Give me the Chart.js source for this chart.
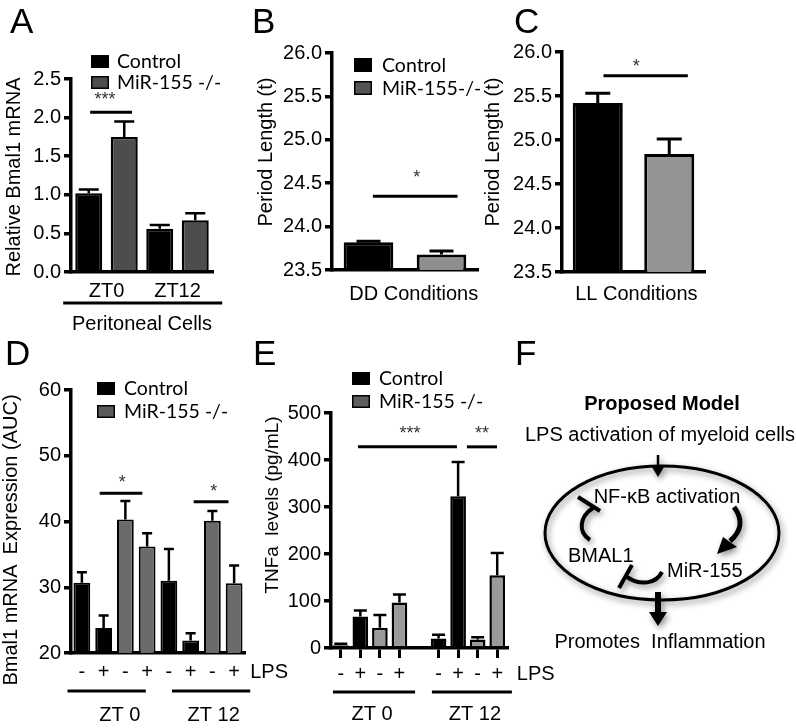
<!DOCTYPE html>
<html><head><meta charset="utf-8">
<script src="https://cdn.jsdelivr.net/npm/chart.js@4.4.1/dist/chart.umd.min.js"></script>
<style>
html,body{margin:0;padding:0;background:#fff;}
#wrap{position:relative;width:796px;height:728px;overflow:hidden;background:#fff;}
#wrap canvas{position:absolute;}
#ov{position:absolute;left:0;top:0;pointer-events:none;}
#ov text{font-family:"Liberation Sans",Arial,sans-serif;fill:#000;white-space:pre;}
#ov .lg{font-family:Lato,"Liberation Sans",sans-serif;font-size:19.5px;}
#ov .ax{font-size:20px;}
#ov .big{font-size:35px;}
</style></head>
<body><div id="wrap">
<canvas id="cA" width="250" height="300" style="left:0;top:40px"></canvas>
<canvas id="cB" width="270" height="300" style="left:250px;top:30px"></canvas>
<canvas id="cC" width="300" height="300" style="left:480px;top:30px"></canvas>
<canvas id="cD" width="300" height="368" style="left:0;top:360px"></canvas>
<canvas id="cE" width="300" height="368" style="left:260px;top:360px"></canvas>
<svg id="ov" width="796" height="728">
  <defs>
    <filter id="sh" x="-30%" y="-30%" width="160%" height="160%">
      <feGaussianBlur in="SourceAlpha" stdDeviation="3"/>
      <feOffset dx="2" dy="3" result="b"/>
      <feFlood flood-color="#000" flood-opacity="0.45"/>
      <feComposite in2="b" operator="in"/>
      <feMerge><feMergeNode/><feMergeNode in="SourceGraphic"/></feMerge>
    </filter>
  </defs>
  <!-- panel letters -->
  <text class="big" x="10" y="33">A</text>
  <text class="big" x="252" y="33">B</text>
  <text class="big" x="514" y="33">C</text>
  <text class="big" x="5" y="365">D</text>
  <text class="big" x="253" y="365">E</text>
  <text class="big" x="515" y="365">F</text>
  <!-- legends -->
  <rect x="91" y="55" width="18" height="13" fill="#000"/>
  <text class="lg" x="117" y="68">Control</text>
  <rect x="91.75" y="76.75" width="16.5" height="11.5" fill="#4d4d4d" stroke="#000" stroke-width="1.5"/>
  <text class="lg" x="117" y="89">MiR-155 -/-</text>

  <rect x="354" y="58" width="18" height="14" fill="#000"/>
  <text class="lg" x="382" y="72">Control</text>
  <rect x="354.75" y="81.75" width="16.5" height="12.5" fill="#555" stroke="#000" stroke-width="1.5"/>
  <text class="lg" x="382" y="95">MiR-155-/-</text>

  <rect x="97" y="382" width="18" height="13" fill="#000"/>
  <text class="lg" x="124" y="395">Control</text>
  <rect x="97.75" y="405.75" width="16.5" height="11.5" fill="#5b5b5b" stroke="#000" stroke-width="1.5"/>
  <text class="lg" x="124" y="418">MiR-155 -/-</text>

  <rect x="352" y="372" width="18" height="13" fill="#000"/>
  <text class="lg" x="379" y="385">Control</text>
  <rect x="352.75" y="395.75" width="16.5" height="11.5" fill="#5e5e5e" stroke="#000" stroke-width="1.5"/>
  <text class="lg" x="379" y="408">MiR-155 -/-</text>

  <!-- y axis titles -->
  <text class="ax" text-anchor="middle" transform="translate(20,177) rotate(-90)">Relative Bmal1 mRNA</text>
  <text class="ax" text-anchor="middle" transform="translate(272,152) rotate(-90)">Period Length (t)</text>
  <text class="ax" text-anchor="middle" transform="translate(499,152) rotate(-90)">Period Length (t)</text>
  <text class="ax" text-anchor="middle" transform="translate(17,540) rotate(-90)">Bmal1 mRNA  Expression (AUC)</text>
  <text class="ax" text-anchor="middle" transform="translate(278,505) rotate(-90)" style="font-size:19px">TNFa  levels (pg/mL)</text>

  <!-- panel F: proposed model diagram -->
  <text x="662" y="410" text-anchor="middle" style="font-size:20px;font-weight:bold">Proposed Model</text>
  <text x="660" y="441" text-anchor="middle" style="font-size:20px">LPS activation of myeloid cells</text>
  <g filter="url(#sh)">
    <ellipse cx="662" cy="533" rx="117" ry="67" fill="none" stroke="#000" stroke-width="3"/>
    <line x1="658" y1="455" x2="658" y2="469" stroke="#000" stroke-width="2.5"/>
    <polygon points="652,467 664,467 658,477" fill="#000"/>
    <path d="M734 507 C743 519, 742 531, 730 541" fill="none" stroke="#000" stroke-width="5"/>
    <polygon points="717,554 723,537 737,547" fill="#000"/>
    <path d="M590 540 C578 532, 579 517, 593 508" fill="none" stroke="#000" stroke-width="4"/>
    <line x1="578" y1="497" x2="600" y2="511" stroke="#000" stroke-width="4"/>
    <path d="M662 572 C656 584, 640 586, 627 577" fill="none" stroke="#000" stroke-width="4"/>
    <line x1="619" y1="588" x2="632" y2="565" stroke="#000" stroke-width="4"/>
    <line x1="658" y1="592" x2="658" y2="614" stroke="#000" stroke-width="6"/>
    <polygon points="649,612 667,612 658,626" fill="#000"/>
  </g>
  <text x="667" y="503" text-anchor="middle" style="font-size:20px">NF-κB activation</text>
  <text x="568" y="562" style="font-size:20px">BMAL1</text>
  <text x="667" y="577" style="font-size:20px">MiR-155</text>
  <text x="660" y="648" text-anchor="middle" style="font-size:20px">Promotes  Inflammation</text>
</svg>
</div>
<script>
// ---------------- DATA ----------------
// Panel A: relative Bmal1 mRNA, peritoneal cells
const catA = ['ZT0', 'ZT12'];
const aControl = [1.02, 0.56];
const aControlErr = [0.05, 0.05];
const aMir = [1.75, 0.67];
const aMirErr = [0.20, 0.09];

// Panel B: period length, DD conditions
const catB = ['DD Conditions'];
const bControl = [23.82];
const bControlErr = [0.01];
const bMir = [23.68];
const bMirErr = [0.04];

// Panel C: period length, LL conditions
const catC = ['LL Conditions'];
const cControl = [25.42];
const cControlErr = [0.11];
const cMir = [24.84];
const cMirErr = [0.17];

// Panel D: Bmal1 mRNA expression (AUC)
const catD = ['ZT 0', 'ZT 12'];
const lpsD = ['-', '+', '-', '+'];
const dCtrlMinus = [30.7, 31.0];
const dCtrlMinusErr = [1.6, 4.8];
const dCtrlPlus = [23.8, 21.9];
const dCtrlPlusErr = [1.9, 1.1];
const dMirMinus = [40.3, 40.1];
const dMirMinusErr = [2.8, 1.5];
const dMirPlus = [36.2, 30.6];
const dMirPlusErr = [2.0, 2.7];

// Panel E: TNFa levels (pg/mL)
const catE = ['-', '+', '-', '+', '', '-', '+', '-', '+'];
const groupE = ['ZT 0', 'ZT 12'];
const eControl = [6, 67, null, null, null, 20, 323, null, null];
const eControlErr = [3, 13, null, null, null, 8, 73, null, null];
const eMir = [null, null, 43, 97, null, null, null, 18, 155];
const eMirErr = [null, null, 27, 17, null, null, null, 5, 47];

// ---------------- SETUP ----------------
const FONT = '"Liberation Sans", Arial, sans-serif';
Chart.defaults.font.family = FONT;
Chart.defaults.color = '#000';
Chart.defaults.animation = false;
const AXW = 3.5;

const extras = {
  id: 'extras',
  afterDatasetsDraw(chart, args, o) {
    const ctx = chart.ctx, xs = chart.scales.x, ys = chart.scales.y, ca = chart.chartArea;
    const vx = v => xs.getPixelForValue(v);
    ctx.save();
    ctx.strokeStyle = '#000';
    ctx.fillStyle = '#000';
    ctx.lineCap = 'butt';
    // error bars (upper whiskers)
    (o.errors || []).forEach((errs, di) => {
      const meta = chart.getDatasetMeta(di);
      const data = chart.data.datasets[di].data;
      meta.data.forEach((b, i) => {
        const v = data[i], e = errs[i];
        if (v == null || e == null) return;
        const y0 = ys.getPixelForValue(v), y1 = ys.getPixelForValue(v + e);
        ctx.lineWidth = o.errW || 2.5;
        ctx.beginPath();
        ctx.moveTo(b.x, y0); ctx.lineTo(b.x, y1);
        ctx.moveTo(b.x - o.capW / 2, y1); ctx.lineTo(b.x + o.capW / 2, y1);
        ctx.stroke();
      });
    });
    // significance lines
    (o.sig || []).forEach(s => {
      const y = ys.getPixelForValue(s.y);
      ctx.lineWidth = 3;
      ctx.beginPath(); ctx.moveTo(vx(s.from), y); ctx.lineTo(vx(s.to), y); ctx.stroke();
      ctx.save();
      ctx.fillStyle = '#333';
      ctx.font = '18px ' + FONT;
      ctx.textAlign = 'center'; ctx.textBaseline = 'alphabetic';
      ctx.fillText(s.text, vx(s.tx), y - s.gap);
      ctx.restore();
    });
    ctx.font = '20px ' + FONT;
    ctx.textBaseline = 'alphabetic';
    // category labels under axis
    if (o.catText) {
      ctx.textAlign = 'center';
      chart.data.labels.forEach((l, i) => { if (l) ctx.fillText(l, vx(i), ca.bottom + o.catText.dy); });
    }
    // per-dataset labels under each bar
    if (o.dsText) {
      ctx.textAlign = 'center';
      o.dsText.texts.forEach((t, di) => {
        chart.getDatasetMeta(di).data.forEach(b => ctx.fillText(t, b.x, ca.bottom + o.dsText.dy));
      });
    }
    (o.texts || []).forEach(t => {
      ctx.textAlign = t.align || 'center';
      ctx.fillText(t.text, vx(t.v), ca.bottom + t.dy);
    });
    (o.lines || []).forEach(l => {
      ctx.lineWidth = 3;
      ctx.beginPath(); ctx.moveTo(vx(l.from), ca.bottom + l.dy); ctx.lineTo(vx(l.to), ca.bottom + l.dy); ctx.stroke();
    });
    ctx.restore();
  }
};

function yAxis(min, max, step, dec, w) {
  return {
    min, max,
    ticks: { stepSize: step, color: '#000', font: { family: FONT, size: 20 }, padding: 3,
             callback: v => Number(v).toFixed(dec) },
    grid: { drawOnChartArea: false, drawTicks: true, tickLength: 7, lineWidth: AXW, color: '#000' },
    border: { width: AXW, color: '#000' },
    afterFit: s => { s.width = w; }
  };
}
function xAxis(extra) {
  return Object.assign({
    ticks: { display: false },
    grid: { display: false },
    border: { width: AXW, color: '#000' },
    afterFit: s => { s.height = 0; }
  }, extra || {});
}
function ds(label, data, color, extra) {
  return Object.assign({ label, data, backgroundColor: color, borderColor: '#000', borderWidth: 2.5 }, extra || {});
}
function base(padding, pct, bpct, ex, scales) {
  return {
    responsive: false, animation: false, events: [],
    layout: { padding },
    datasets: { bar: { categoryPercentage: pct, barPercentage: bpct } },
    plugins: { legend: { display: false }, tooltip: { enabled: false }, extras: ex },
    scales
  };
}

// Panel A
new Chart(document.getElementById('cA'), {
  type: 'bar',
  data: { labels: catA, datasets: [ds('Control', aControl, '#000'), ds('MiR-155 -/-', aMir, '#4d4d4d')] },
  options: base({ left: 0, top: 39, right: 37, bottom: 68 }, 1, 0.76, {
    errors: [aControlErr, aMirErr], capW: 20,
    sig: [{ from: -0.23, to: 0.36, y: 2.07, text: '***', tx: -0.02, gap: 7 }],
    catText: { dy: 25 },
    texts: [{ v: 0.5, dy: 58, text: 'Peritoneal Cells' }],
    lines: [{ from: -0.61, to: 1.63, dy: 31 }]
  }, { x: xAxis(), y: yAxis(0, 2.5, 0.5, 1, 71) }),
  plugins: [extras]
});

// Panel B
new Chart(document.getElementById('cB'), {
  type: 'bar',
  data: { labels: catB, datasets: [ds('Control', bControl, '#000', { borderWidth: 3 }), ds('MiR-155-/-', bMir, '#8e8e8e', { borderWidth: 3 })] },
  options: base({ left: 0, top: 23, right: 42, bottom: 60 }, 1, 0.68, {
    errors: [bControlErr, bMirErr], capW: 24, errW: 3,
    sig: [{ from: -0.22, to: 0.36, y: 24.35, text: '*', tx: 0.08, gap: 13 }],
    texts: [{ v: 0.06, dy: 30, text: catB[0] }]
  }, { x: xAxis(), y: yAxis(23.5, 26, 0.5, 1, 82) }),
  plugins: [extras]
});

// Panel C
new Chart(document.getElementById('cC'), {
  type: 'bar',
  data: { labels: catC, datasets: [ds('Control', cControl, '#000', { borderWidth: 3 }), ds('MiR-155-/-', cMir, '#949494', { borderWidth: 3 })] },
  options: base({ left: 0, top: 22, right: 75, bottom: 58 }, 1, 0.7, {
    errors: [cControlErr, cMirErr], capW: 25, errW: 3,
    sig: [{ from: -0.21, to: 0.38, y: 25.73, text: '*', tx: 0.02, gap: 4 }],
    texts: [{ v: 0.02, dy: 28, text: catC[0] }]
  }, { x: xAxis(), y: yAxis(23.5, 26, 0.5, 1, 82) }),
  plugins: [extras]
});

// Panel D
new Chart(document.getElementById('cD'), {
  type: 'bar',
  data: { labels: catD, datasets: [
    ds('Control LPS -', dCtrlMinus, '#000', { borderWidth: 2 }),
    ds('Control LPS +', dCtrlPlus, '#000', { borderWidth: 2 }),
    ds('MiR-155 -/- LPS -', dMirMinus, '#6b6b6b', { borderWidth: 2 }),
    ds('MiR-155 -/- LPS +', dMirPlus, '#6b6b6b', { borderWidth: 2 })] },
  options: base({ left: 0, top: 30, right: 55, bottom: 75 }, 1, 0.77, {
    errors: [dCtrlMinusErr, dCtrlPlusErr, dMirMinusErr, dMirPlusErr], capW: 10,
    sig: [{ from: -0.17, to: 0.32, y: 44.3, text: '*', tx: 0.09, gap: 5 },
          { from: 0.91, to: 1.31, y: 43.0, text: '*', tx: 1.14, gap: 5 }],
    dsText: { texts: lpsD, dy: 25 },
    texts: [{ v: 1.56, dy: 25, text: 'LPS', align: 'left' },
            { v: 0.06, dy: 68, text: catD[0] }, { v: 1.14, dy: 68, text: catD[1] }],
    lines: [{ from: -0.54, to: 0.36, dy: 38 }, { from: 0.66, to: 1.56, dy: 38 }]
  }, { x: xAxis(), y: yAxis(20, 60, 10, 0, 71) }),
  plugins: [extras]
});

// Panel E
new Chart(document.getElementById('cE'), {
  type: 'bar',
  data: { labels: catE, datasets: [
    ds('Control', eControl, '#000', { grouped: false }),
    ds('MiR-155 -/-', eMir, '#9a9a9a', { grouped: false })] },
  options: base({ left: 0, top: 53, right: 53, bottom: 80 }, 1, 0.8, {
    errors: [eControlErr, eMirErr], capW: 13,
    sig: [{ from: 0.88, to: 5.94, y: 428, text: '***', tx: 3.54, gap: 8 },
          { from: 6.45, to: 7.99, y: 428, text: '**', tx: 7.22, gap: 8 }],
    catText: { dy: 32 },
    texts: [{ v: 9.0, dy: 32, text: 'LPS', align: 'left' },
            { v: 1.6, dy: 72, text: groupE[0] }, { v: 6.86, dy: 72, text: groupE[1] }],
    lines: [{ from: -0.4, to: 3.8, dy: 44 }, { from: 4.66, to: 8.75, dy: 44 }]
  }, {
    x: xAxis({ grid: { display: true, drawOnChartArea: false, drawTicks: true, tickLength: 10, lineWidth: 3, offset: false,
                       color: c => (catE[c.index] === '' ? 'rgba(0,0,0,0)' : '#000') } }),
    y: yAxis(0, 500, 100, 0, 71)
  }),
  plugins: [extras]
});
</script>
</body></html>
